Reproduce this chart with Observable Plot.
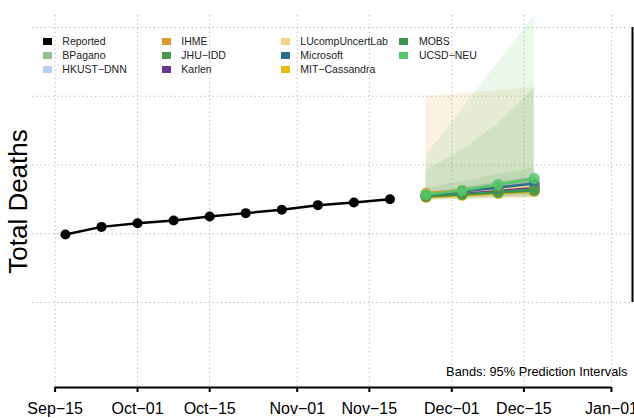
<!DOCTYPE html>
<html><head><meta charset="utf-8">
<script src="https://cdn.jsdelivr.net/npm/d3@7"></script>
<script src="https://cdn.jsdelivr.net/npm/@observablehq/plot@0.6"></script>
<style>
body{margin:0;background:#fff;}
#wrap{position:relative;width:634px;height:418px;font-family:"Liberation Sans",Arial,Helvetica,sans-serif;}
#wrap svg{position:absolute;left:0;top:0;}
.lg{position:absolute;font-size:10.5px;color:#222;line-height:1;white-space:nowrap;transform:translateY(-50%);}
.sw{position:absolute;width:9px;height:7px;}
</style></head><body><div id="wrap"></div>
<script>
// ---- data ----
const reportedDates = ["2020-09-17","2020-09-24","2020-10-01","2020-10-08","2020-10-15","2020-10-22","2020-10-29","2020-11-05","2020-11-12","2020-11-19"];
const reportedDeaths = [14950, 15500, 15770, 15960, 16250, 16500, 16740, 17080, 17270, 17510];

const forecastDates = ["2020-11-26","2020-12-03","2020-12-10","2020-12-17"];
const models = ["BPagano","HKUST-DNN","IHME","JHU-IDD","Karlen","LUcompUncertLab","Microsoft","MIT-Cassandra","MOBS","UCSD-NEU"];
const modelColors = ["#8fbf8b","#b8cff0","#dd9a32","#44994a","#6a3590","#f6d28c","#2a6e8e","#e5b910","#3f9250","#55c768"];

const pointBPagano   = [17782, 18000, 18218, 18436];
const pointHKUST     = [17709, 17927, 18145, 18364];
const pointIHME      = [17964, 18145, 18291, 18436];
const pointJHU       = [17782, 18000, 18145, 18291];
const pointKarlen    = [17782, 18000, 18218, 18400];
const pointLUcomp    = [17855, 18073, 18291, 18509];
const pointMicrosoft = [17782, 18073, 18364, 18655];
const pointMIT       = [17636, 17782, 17927, 18073];
const pointMOBS      = [17709, 17855, 18000, 18145];
const pointUCSD      = [17855, 18145, 18582, 19018];

const lowerBPagano   = [17630, 17720, 17820, 17940];
const upperBPagano   = [17930, 18300, 18670, 19040];
const lowerHKUST     = [17560, 17630, 17750, 17860];
const upperHKUST     = [17860, 18230, 18600, 18960];
const lowerIHME      = [17490, 17560, 17640, 17710];
const upperIHME      = [24982, 25200, 25418, 25636];
const lowerJHU       = [17420, 17490, 17560, 17640];
const upperJHU       = [19600, 21055, 23018, 25564];
const lowerKarlen    = [17630, 17700, 17820, 17900];
const upperKarlen    = [17930, 18300, 18670, 19000];
const lowerLUcomp    = [17700, 17770, 17890, 18000];
const upperLUcomp    = [18000, 18370, 18740, 19100];
const lowerMicrosoft = [17650, 17850, 18050, 18250];
const upperMicrosoft = [17950, 18350, 18750, 19150];
const lowerMIT       = [17490, 17480, 17530, 17570];
const upperMIT       = [17790, 18080, 18380, 18670];
const lowerMOBS      = [17550, 17600, 17650, 17700];
const upperMOBS      = [18300, 18800, 19300, 19800];
const lowerUCSD      = [17490, 17640, 17780, 17850];
const upperUCSD      = [20691, 24036, 27455, 30800];

const tickDates = ["2020-09-15","2020-10-01","2020-10-15","2020-11-01","2020-11-15","2020-12-01","2020-12-15","2021-01-01"];
const yGrid = [10000, 15000, 20000, 25000, 30000];

// ---- tables ----
const parse = d3.utcParse("%Y-%m-%d");
const points = [pointBPagano,pointHKUST,pointIHME,pointJHU,pointKarlen,pointLUcomp,pointMicrosoft,pointMIT,pointMOBS,pointUCSD];
const lowers = [lowerBPagano,lowerHKUST,lowerIHME,lowerJHU,lowerKarlen,lowerLUcomp,lowerMicrosoft,lowerMIT,lowerMOBS,lowerUCSD];
const uppers = [upperBPagano,upperHKUST,upperIHME,upperJHU,upperKarlen,upperLUcomp,upperMicrosoft,upperMIT,upperMOBS,upperUCSD];

const reported = reportedDates.map((d,i)=>({date:parse(d), v:reportedDeaths[i]}));
const fc = [];
models.forEach((m,k)=>forecastDates.forEach((d,i)=>fc.push({model:m, date:parse(d), v:points[k][i], lo:lowers[k][i], hi:uppers[k][i]})));
const ticks = tickDates.map(parse);

const DAY = 864e5;
const t0 = +ticks[0];
const xDomain = [new Date(t0 - 4.39*DAY), new Date(t0 + 112.08*DAY)];
const yDomain = [3818, 30873];
const fmtM = d3.utcFormat("%b"), fmtD = d3.utcFormat("%d");

const marks = [
  Plot.ruleY(yGrid, {stroke:"#b5b5b5", strokeDasharray:"1.2,3"}),
  Plot.ruleX(ticks, {stroke:"#b5b5b5", strokeDasharray:"1.2,3"}),
];
models.forEach((m,k)=>{
  marks.push(Plot.areaY(fc.filter(d=>d.model===m), {x:"date", y1:"lo", y2:"hi", fill:modelColors[k], fillOpacity:0.13}));
});
models.forEach((m,k)=>{
  const sub = fc.filter(d=>d.model===m);
  marks.push(Plot.line(sub, {x:"date", y:"v", stroke:modelColors[k], strokeWidth:2.5}));
  marks.push(Plot.dot(sub, {x:"date", y:"v", r:5.5, fill:modelColors[k], fillOpacity:0.85}));
});
marks.push(
  Plot.line(reported, {x:"date", y:"v", stroke:"black", strokeWidth:2.5}),
  Plot.dot(reported, {x:"date", y:"v", r:5, fill:"black"}),
  Plot.ruleX([xDomain[1]], {y1: yGrid[0], y2: yGrid[yGrid.length-1], stroke:"black", strokeWidth:2}),
  Plot.ruleY([yDomain[0]], {x1: () => ticks[0], x2: () => ticks[ticks.length-1], stroke:"black", strokeWidth:2}),
  Plot.axisX(ticks, {tickSize:5, tickPadding:10, strokeWidth:2, fontSize:16, fill:"black", tickFormat: d => fmtM(d) + "\u2212" + fmtD(d)}),
  Plot.text(["Total Deaths"], {frameAnchor:"left", dx:-14, rotate:-90, textAnchor:"middle", lineAnchor:"middle", fontSize:26, fill:"black"}),
  Plot.text(["Bands: 95% Prediction Intervals"], {frameAnchor:"bottom-right", dx:-5, dy:-16, lineAnchor:"middle", textAnchor:"end", fontSize:12.8, fill:"black"})
);

const chart = Plot.plot({
  width: 634, height: 418,
  marginLeft: 32, marginRight: 2, marginTop: 15, marginBottom: 31,
  style: {fontFamily: '"Liberation Sans", Arial, Helvetica, sans-serif', background: "white", overflow: "visible"},
  x: {type: "utc", domain: xDomain, axis: null},
  y: {domain: yDomain, axis: null},
  marks
});
const wrap = document.getElementById("wrap");
wrap.appendChild(chart);

// ---- legend ----
const legendNames = ["Reported"].concat(models);
const legendColors = ["#000000"].concat(modelColors);
const colX = [42.7, 161.7, 280.7, 399.3];
const rowY = [41, 55, 69];
legendNames.forEach((name,i)=>{
  const c = Math.floor(i/3), r = i%3;
  const sw = document.createElement("div");
  sw.className = "sw";
  sw.style.left = colX[c] + "px";
  sw.style.top = (rowY[r] - 3.5) + "px";
  sw.style.background = legendColors[i];
  wrap.appendChild(sw);
  const t = document.createElement("div");
  t.className = "lg";
  t.style.left = (colX[c] + 19.6) + "px";
  t.style.top = rowY[r] + "px";
  t.textContent = name.replace("-", "\u2212");
  wrap.appendChild(t);
});
</script></body></html>
